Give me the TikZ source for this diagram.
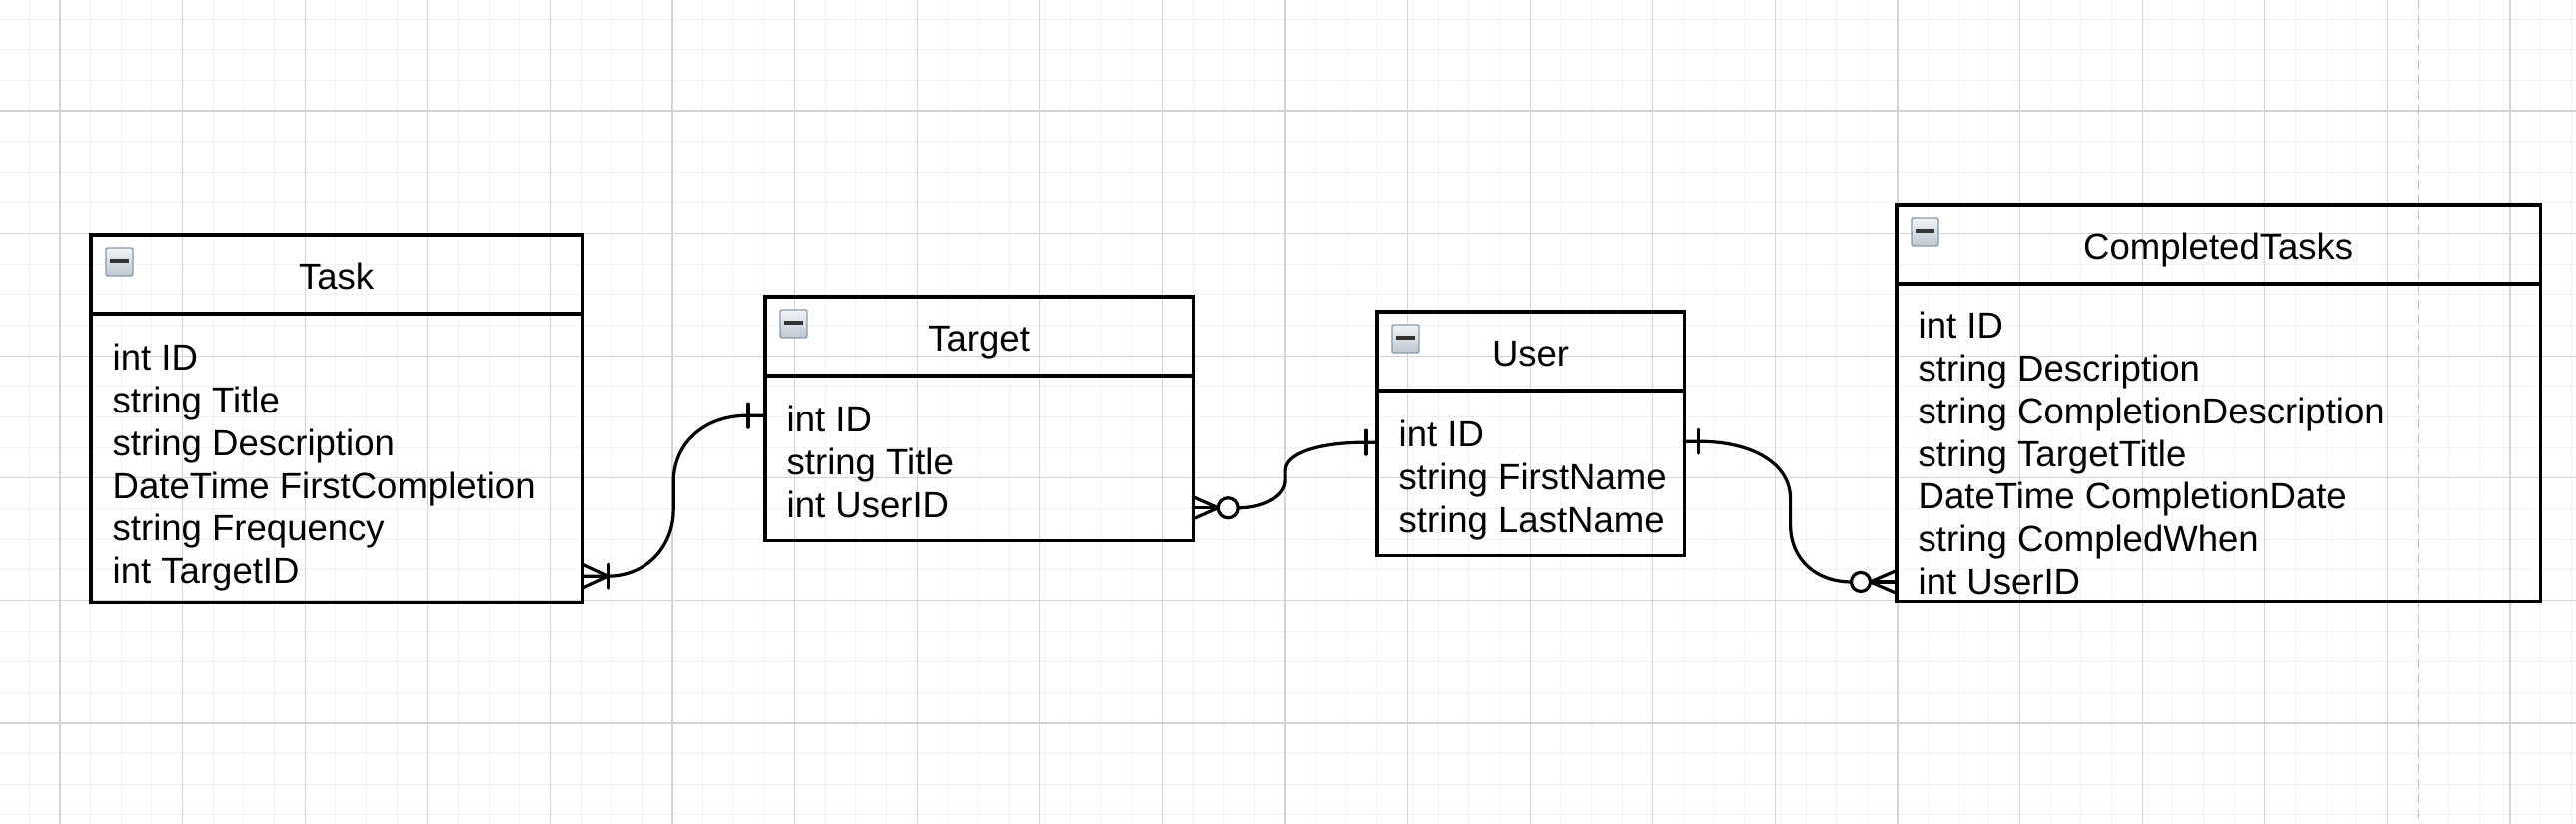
\documentclass[tikz,border=0pt]{standalone}
\usepackage{fontspec}
\setmainfont{Liberation Sans}
\usetikzlibrary{calc}

\definecolor{iconedge}{HTML}{8A99AA}
\definecolor{icontop}{HTML}{F2F4F6}
\definecolor{iconbot}{HTML}{BCC6D1}

\newcommand\erfont{\fontsize{10.39}{12.18}\selectfont}

\tikzset{
  grid minor/.style={line width=0.01cm, black!5},
  grid major/.style={line width=0.012cm, black!17},
  page break/.style={line width=0.01cm, black!25, dash pattern=on 0.09cm off 0.06cm},
  entity/.style={draw, line width=0.032cm, inner sep=0pt, outer sep=0pt, anchor=north west},
  title/.style={font=\erfont, inner sep=0pt, anchor=base},
  attr/.style={font=\erfont, inner sep=0pt, anchor=north west, text height=0.29cm, text depth=0.138cm},
  icon/.style={draw=iconedge, line width=0.014cm, top color=icontop, bottom color=iconbot, rounded corners=0.02cm},
  rel/.style={line width=0.032cm, line cap=round, line join=round},
}

% collapse icon in the corner of a table header
\newcommand\collapsebox[1]{%
  \draw [icon] ($(#1)+(15,13)$) rectangle ++(27,28);%
  \draw [line width=0.038cm, black!80] ($(#1)+(19,26)$) -- ++(19,0);%
}

\begin{document}
\begin{tikzpicture}[x=0.01cm,y=-0.01cm]
  \useasboundingbox (0,0) rectangle (2578,825);
  \fill [white] (0,0) rectangle (2578,825);%
  {\erfont

  % Drawing grid
  \foreach \i in {-1,...,82}
    \draw [grid minor] ({60+30.65*\i},0) -- ++(0,825);%
  \foreach \j in {-3,...,23}
    \draw [grid minor] (0,{111+30.65*\j}) -- ++(2578,0);%
  \foreach \i in {0,...,20}
    \draw [grid major] ({60+122.6*\i},0) -- ++(0,825);%
  \foreach \j in {0,...,5}
    \draw [grid major] (0,{111+122.6*\j}) -- ++(2578,0);%

  % Drawing page break
  \draw [page break] (2420,0) -- (2420,825);%

  % Drawing entity Task
  \node [entity, minimum width=4.91cm, minimum height=3.68cm] (task) at (91,235) {};%
  \node [entity, minimum width=4.91cm, minimum height=0.79cm] (taskH) at (task.north west) {};%
  \node [title] (taskT) at ($(taskH.north)+(0,55)$) {Task};%
  \collapsebox{taskH.north west}
  \foreach \f [count=\i] in {int ID, string Title, string Description, DateTime FirstCompletion, string Frequency, int TargetID}
    \node [attr] (task\i) at ($(taskH.south west)+(21,{27+42.8*(\i-1)})$) {\f};%

  % Drawing entity Target
  \node [entity, minimum width=4.28cm, minimum height=2.44cm] (target) at (766,297) {};%
  \node [entity, minimum width=4.28cm, minimum height=0.79cm] (targetH) at (target.north west) {};%
  \node [title] (targetT) at ($(targetH.north)+(0,55)$) {Target};%
  \collapsebox{targetH.north west}
  \foreach \f [count=\i] in {int ID, string Title, int UserID}
    \node [attr] (target\i) at ($(targetH.south west)+(21,{27+42.8*(\i-1)})$) {\f};%

  % Drawing entity User
  \node [entity, minimum width=3.07cm, minimum height=2.44cm] (user) at (1378,312) {};%
  \node [entity, minimum width=3.07cm, minimum height=0.79cm] (userH) at (user.north west) {};%
  \node [title] (userT) at ($(userH.north)+(0,55)$) {User};%
  \collapsebox{userH.north west}
  \foreach \f [count=\i] in {int ID, string FirstName, string LastName}
    \node [attr] (user\i) at ($(userH.south west)+(21,{27+42.8*(\i-1)})$) {\f};%

  % Drawing entity CompletedTasks
  \node [entity, minimum width=6.44cm, minimum height=3.97cm] (completed) at (1898,205) {};%
  \node [entity, minimum width=6.44cm, minimum height=0.79cm] (completedH) at (completed.north west) {};%
  \node [title] (completedT) at ($(completedH.north)+(0,55)$) {CompletedTasks};%
  \collapsebox{completedH.north west}
  \foreach \f [count=\i] in {int ID, string Description, string CompletionDescription, string TargetTitle, DateTime CompletionDate, string CompledWhen, int UserID}
    \node [attr] (completed\i) at ($(completedH.south west)+(21,{25+42.8*(\i-1)})$) {\f};%

  % Drawing relationship Task -- Target (one or many to one)
  \coordinate (a1) at (task.east |- task6);%
  \coordinate (b1) at ($(target.west |- target1)+(0,-9)$);%
  \coordinate (k1) at ($(a1)!0.5!(b1)$);%
  \draw [rel] (a1) -- ($(a1)+(26,0)$) .. controls +(40,0) and +(0,35) .. ($(k1)+(0,14)$) -- ($(k1)+(0,-14)$) .. controls +(0,-38) and +(-45,0) .. ($(b1)+(-17,0)$) -- (b1);%
  \draw [rel] ($(a1)+(0,-12)$) -- ($(a1)+(26,0)$) -- ($(a1)+(0,12)$);%
  \draw [rel] ($(a1)+(26,-12)$) -- ($(a1)+(26,12)$);%
  \draw [rel] ($(b1)+(-17,-12)$) -- ($(b1)+(-17,12)$);%

  % Drawing relationship Target -- User (zero or many to one)
  \coordinate (a2) at ($(target.east |- target3)+(0,-2)$);%
  \coordinate (b2) at ($(user.west |- user1)+(0,3)$);%
  \coordinate (k2) at ($(a2)!0.5!(b2)$);%
  \draw [rel] ($(a2)+(45,0)$) .. controls +(25,0) and +(0,16) .. ($(k2)+(0,5)$) -- ($(k2)+(0,-5)$) .. controls +(0,-16) and +(-50,0) .. ($(b2)+(-11,0)$) -- (b2);%
  \draw [rel] (a2) -- ($(a2)+(25,0)$);%
  \draw [rel] ($(a2)+(0,-11)$) -- ($(a2)+(25,0)$) -- ($(a2)+(0,11)$);%
  \draw [rel] ($(a2)+(35,0)$) circle [radius=0.1cm];%
  \draw [rel] ($(b2)+(-11,-12)$) -- ($(b2)+(-11,12)$);%

  % Drawing relationship User -- CompletedTasks (one to zero or many)
  \coordinate (a3) at ($(user.east |- user1)+(0,2)$);%
  \coordinate (b3) at ($(completed.west |- completed7)+(0,-5)$);%
  \coordinate (k3) at ($(a3)!0.5!(b3)$);%
  \draw [rel] (a3) -- ($(a3)+(14,0)$) .. controls +(55,0) and +(0,-35) .. ($(k3)+(0,-13)$) -- ($(k3)+(0,13)$) .. controls +(0,35) and +(-35,0) .. ($(b3)+(-45.5,0)$);%
  \draw [rel] ($(a3)+(14,-12)$) -- ($(a3)+(14,12)$);%
  \draw [rel] ($(b3)+(-36,0)$) circle [radius=0.095cm];%
  \draw [rel] (b3) -- ($(b3)+(-26.5,0)$);%
  \draw [rel] ($(b3)+(0,-11.5)$) -- ($(b3)+(-26.5,0)$) -- ($(b3)+(0,11.5)$);%
  }
\end{tikzpicture}
\end{document}
